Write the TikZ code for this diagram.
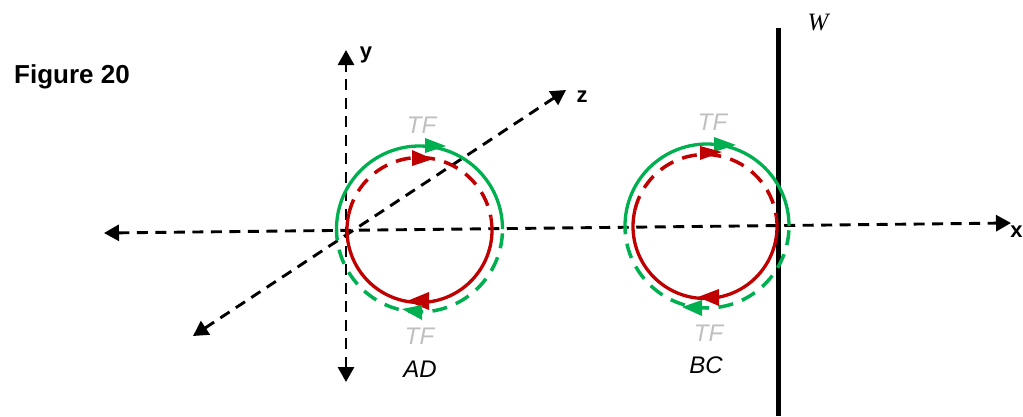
\documentclass[tikz,border=0pt]{standalone}
\usepackage{fontspec}
\setmainfont{Liberation Sans}
\newfontfamily\wfont{Liberation Serif}
\usetikzlibrary{arrows.meta}
\definecolor{tfgreen}{RGB}{0,176,80}
\definecolor{tfred}{RGB}{192,0,0}
\definecolor{tfgray}{RGB}{191,191,191}
\tikzset{
  x=1pt,y=-1pt,
  axisline/.style={line width=2.9pt,dash pattern=on 11pt off 7.5pt,{Triangle[length=15pt,width=16pt]}-{Triangle[length=15pt,width=16pt]}},
  wallline/.style={line width=4.2pt},
  ringsolid/.style={line width=3.3pt},
  ringdash/.style={line width=3.5pt,dash pattern=on 15pt off 9.5pt},
  tflabel/.style={font=\fontsize{24}{24}\selectfont\itshape,text=tfgray,inner sep=0pt},
  namelabel/.style={font=\fontsize{24}{24}\selectfont\itshape,inner sep=0pt},
  axislabel/.style={font=\fontsize{22}{22}\selectfont\bfseries,inner sep=0pt}
}
\begin{document}
\begin{tikzpicture}
\useasboundingbox (0,0) rectangle (1023,416);
% named ends
\coordinate (xl) at (104,233);
\coordinate (xr) at (1011,223);
\coordinate (yt) at (346,50);
\coordinate (yb) at (346,382);
\coordinate (zt) at (566,90);
\coordinate (zb) at (193,336);
\coordinate (wt) at (778.5,28);
\coordinate (wb) at (778.5,416);
\coordinate (ad) at (419.5,229);
\coordinate (adr) at (419.5,230);
\coordinate (bc) at (707,226);
\coordinate (bcr) at (705,226.5);
% axes
\draw[axisline] (xl) -- (xr);
\draw[axisline] (yb) -- (yt);
\draw[axisline] (zb) -- (zt);
\draw[wallline] (wt) -- (wb);
% AD ring
\draw[ringsolid,tfgreen] ([shift={(180:83)}]ad) arc (180:360:83);
\draw[ringdash,tfgreen] ([shift={(3:83)}]ad) arc (3:180:83);
\draw[ringsolid,tfred] ([shift={(-10:72.5)}]adr) arc (-10:193:72.5);
\draw[ringdash,tfred] ([shift={(193:72.5)}]adr) arc (193:350:72.5);
% BC ring
\draw[ringsolid,tfgreen] ([shift={(180:82)}]bc) arc (180:360:82);
\draw[ringdash,tfgreen] ([shift={(3:82)}]bc) arc (3:180:82);
\draw[ringsolid,tfred] ([shift={(-8:72)}]bcr) arc (-8:193:72);
\draw[ringdash,tfred] ([shift={(193:72)}]bcr) arc (193:352:72);
% arrowheads on the rings
\fill[tfgreen] (446,146) -- (425,138) -- (425,153) -- cycle;
\fill[tfred] (433,159) -- (412,150) -- (412,166) -- cycle;
\fill[tfred] (407,301) -- (429,292) -- (429,310) -- cycle;
\fill[tfgreen] (402,309) -- (422,305) -- (422,320) -- cycle;
\fill[tfgreen] (736,145) -- (714,137) -- (714,152) -- cycle;
\fill[tfred] (722,152) -- (700,146) -- (700,160) -- cycle;
\fill[tfred] (698,297) -- (719,289) -- (719,306) -- cycle;
\fill[tfgreen] (682,307) -- (702,300) -- (702,316) -- cycle;
% labels
\node[inner sep=0pt,font=\fontsize{26}{26}\selectfont\bfseries] (fig) at (72,77) {Figure 20};
\node[axislabel] (ylab) at (366,55) {y};
\node[axislabel] (zlab) at (582,97) {z};
\node[axislabel] (xlab) at (1016.5,232) {x};
\node[inner sep=0pt,font=\fontsize{25}{25}\selectfont\wfont\itshape] (wlab) at (818,23) {W};
\node[tflabel] (tf1) at (421.5,125) {TF};
\node[tflabel] (tf2) at (712.5,122) {TF};
\node[tflabel] (tf3) at (419.5,336) {TF};
\node[tflabel] (tf4) at (708.5,333) {TF};
\node[namelabel] (adl) at (420,369) {AD};
\node[namelabel] (bcl) at (706,365) {BC};
\end{tikzpicture}
\end{document}
